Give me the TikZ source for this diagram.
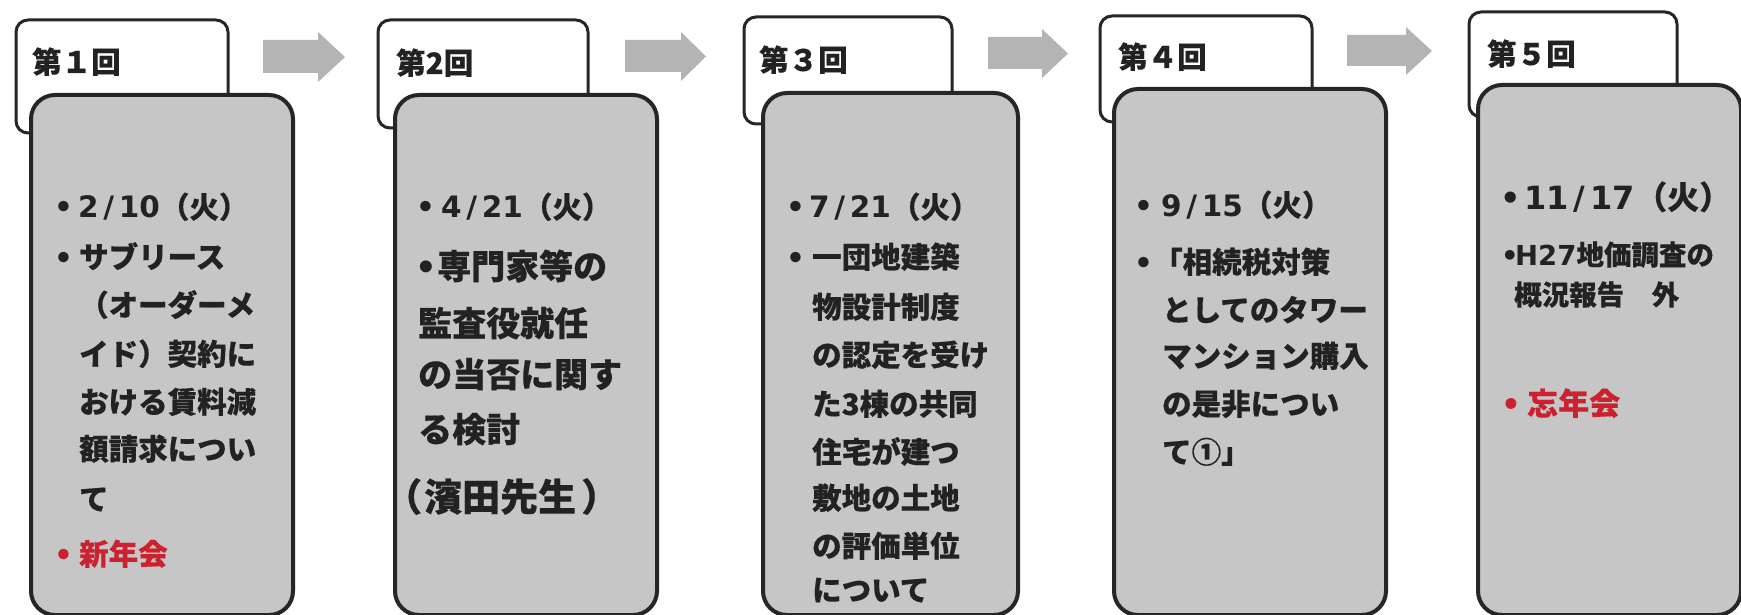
\documentclass[tikz,border=0pt]{standalone}
\usepackage{fontspec}
\setmainfont{DejaVu Sans}
\newfontfamily\jp{Noto Sans CJK JP}[BoldFeatures={FakeBold=0.4}]
\newfontfamily\dv{DejaVu Sans}
\definecolor{bord}{HTML}{262626}
\definecolor{boxgray}{HTML}{C6C6C6}
\definecolor{arrowgray}{HTML}{B4B4B4}
\definecolor{ink}{HTML}{222222}
\definecolor{redink}{HTML}{CC2230}
\newcommand\sla{\kern.16em/\kern.16em}
\newcommand\dt[1]{{\dv\bfseries #1}}
\newcommand\bul[1]{\makebox[#1pt][l]{\dv\bfseries •}}
\newcommand\fs[1]{\fontsize{#1}{#1}\selectfont}
\begin{document}
\begin{tikzpicture}[x=1pt,y=-1pt,
  hdr/.style={draw=bord, line width=3pt, fill=white, rounded corners=12pt, anchor=north west, inner sep=0pt},
  mainbox/.style={draw=bord, line width=4pt, fill=boxgray, rounded corners=24pt, anchor=north west, inner sep=0pt},
  txt/.style={anchor=base west, inner sep=0pt, text=ink, font=\jp\bfseries\fs{29.5}},
  red/.style={text=redink},
  big/.style={font=\jp\bfseries\fs{34}},
  blockarrow/.style={fill=arrowgray, draw=none}]
\useasboundingbox (0,0) rectangle (1741,615);
\fill[white] (0,0) rectangle (1741,615);

% header boxes
\node[hdr, minimum width=212pt, minimum height=113pt] (h1) at (14.5,18.5) {};
\node[hdr, minimum width=210pt, minimum height=108pt] (h2) at (376.5,18.5) {};
\node[hdr, minimum width=208pt, minimum height=107pt] (h3) at (742.5,15.5) {};
\node[hdr, minimum width=212pt, minimum height=106pt] (h4) at (1098.5,14.5) {};
\node[hdr, minimum width=208pt, minimum height=105pt] (h5) at (1467.5,10.5) {};

% main boxes
\node[mainbox, minimum width=262pt, minimum height=520pt] (m1) at (29,93) {};
\node[mainbox, minimum width=262pt, minimum height=520pt] (m2) at (393,93) {};
\node[mainbox, minimum width=255pt, minimum height=522pt] (m3) at (761,91) {};
\node[mainbox, minimum width=272pt, minimum height=526pt] (m4) at (1112,87) {};
\node[mainbox, minimum width=263pt, minimum height=530pt] (m5) at (1476,83) {};

% block arrows
\fill[blockarrow] (263,40) -- (318,40) -- (318,32) -- (345,57) -- (318,82) -- (318,73) -- (263,73) -- cycle;
\fill[blockarrow] (625,40) -- (681,40) -- (681,32) -- (706,56.5) -- (681,81) -- (681,72) -- (625,72) -- cycle;
\fill[blockarrow] (988,37) -- (1042,37) -- (1042,29) -- (1068,53.5) -- (1042,78) -- (1042,69) -- (988,69) -- cycle;
\fill[blockarrow] (1347,35) -- (1406,35) -- (1406,27) -- (1432,51) -- (1406,75) -- (1406,66) -- (1347,66) -- cycle;

% header texts
\node[txt] (h1t) at (32,73) {第１回};
\node[txt] (h2t) at (396,74) {第2回};
\node[txt] (h3t) at (759,71) {第３回};
\node[txt] (h4t) at (1118,68) {第４回};
\node[txt] (h5t) at (1487,65) {第５回};

% panel 1
\node[txt] (p1a) at (54,218) {\bul{24}\dt{2\sla10}（火）};
\node[txt] (p1b) at (54,268) {\bul{25}サブリース};
\node[txt] (p1c) at (79,316) {（オーダーメ};
\node[txt] (p1d) at (79,365) {イド）契約に};
\node[txt] (p1e) at (79,413) {おける賃料減};
\node[txt] (p1f) at (79,460) {額請求につい};
\node[txt] (p1g) at (79,510) {て};
\node[txt, red] (p1h) at (54,565) {\bul{25}新年会};

% panel 2
\node[txt] (p2a) at (416,218) {\bul{25}\dt{4\sla21}（火）};
\node[txt, big] (p2b) at (415,279) {\bul{22}専門家等の};
\node[txt, big] (p2c) at (418,336) {監査役就任};
\node[txt, big] (p2d) at (418,387) {の当否に関す};
\node[txt, big] (p2e) at (418,442) {る検討};
\node[txt, font=\jp\bfseries\fs{38}] (p2f) at (384,511) {（\kern2pt 濱田先生\kern5pt）};

% panel 3
\node[txt] (p3a) at (786,218) {\bul{23}\dt{7\sla21}（火）};
\node[txt] (p3b) at (786,268) {\bul{26}一団地建築};
\node[txt] (p3c) at (812,318) {物設計制度};
\node[txt] (p3d) at (812,366) {の認定を受け};
\node[txt] (p3e) at (812,415) {た3棟の共同};
\node[txt] (p3f) at (812,463) {住宅が建つ};
\node[txt] (p3g) at (812,509) {敷地の土地};
\node[txt] (p3h) at (812,557) {の評価単位};
\node[txt] (p3i) at (812,601) {について};

% panel 4
\node[txt] (p4a) at (1134,216) {\bul{27}\dt{9\sla15}（火）};
\node[txt] (p4b) at (1134,273) {\bul{19}「相続税対策};
\node[txt] (p4c) at (1162,321) {としてのタワー};
\node[txt] (p4d) at (1162,367) {マンション購入};
\node[txt] (p4e) at (1162,415) {の是非につい};
\node[txt] (p4f) at (1162,463) {て①」};

% panel 5
\node[txt, font=\jp\bfseries\fs{32}] (p5a) at (1500,209) {\bul{24}\dt{11\sla17}（火）};
\node[txt, font=\jp\bfseries\fs{27.5}] (p5b) at (1501,265) {\bul{14}\dt{H27}地価調査の};
\node[txt, font=\jp\bfseries\fs{27.5}] (p5c) at (1514,305) {概況報告　外};
\node[txt, red, font=\jp\bfseries\fs{31}] (p5d) at (1501,415) {\bul{26}忘年会};
\end{tikzpicture}
\end{document}
